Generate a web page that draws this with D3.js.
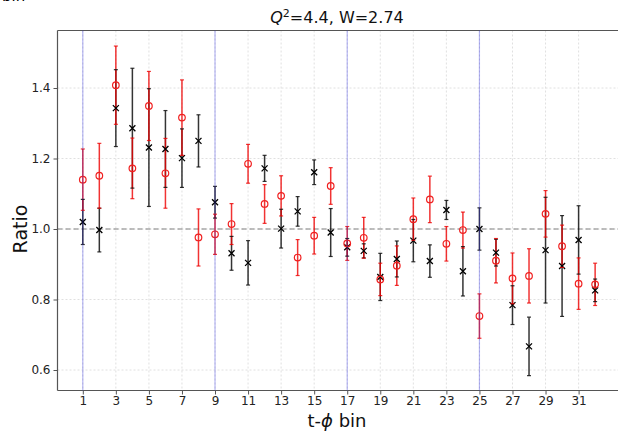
<!DOCTYPE html>
<html><head><meta charset="utf-8">
<script src="https://cdn.jsdelivr.net/npm/d3@7"></script>
<style>body{margin:0;background:#fff}svg{display:block}text{font-family:"DejaVu Sans",sans-serif}</style>
</head><body><svg id="c" width="618" height="431"></svg>
<script>
const bins = d3.range(1, 33);
const redVal = [1.140,1.151,1.408,1.172,1.349,1.158,1.316,0.976,0.985,1.014,1.185,1.071,1.094,0.919,0.981,1.122,0.959,0.975,0.857,0.896,1.028,1.084,0.958,0.997,0.753,0.910,0.860,0.867,1.043,0.951,0.845,0.843];
const redErr = [0.087,0.092,0.111,0.086,0.098,0.099,0.107,0.081,0.057,0.058,0.055,0.055,0.057,0.051,0.052,0.052,0.048,0.058,0.046,0.056,0.060,0.066,0.049,0.051,0.063,0.063,0.072,0.077,0.066,0.060,0.073,0.060];
const blackVal = [1.020,0.997,1.343,1.286,1.231,1.227,1.201,1.250,1.076,0.931,0.904,1.172,1.001,1.050,1.161,0.990,0.948,0.938,0.864,0.915,0.967,0.909,1.054,0.880,1.000,0.933,0.784,0.667,0.940,0.895,0.969,0.826];
const blackErr = [0.064,0.062,0.109,0.170,0.167,0.109,0.083,0.074,0.045,0.048,0.063,0.037,0.055,0.042,0.035,0.068,0.025,0.020,0.067,0.051,0.060,0.046,0.027,0.070,0.060,0.038,0.055,0.083,0.150,0.143,0.097,0.032];
const xTicks = d3.range(1, 32, 2);
const yTicks = [0.6, 0.8, 1.0, 1.2, 1.4];
const vLines = [1, 9, 17, 25];
const titleText = "=4.4, W=2.74";

const svg = d3.select("#c");
const L = 57.5, T = 30.5, B = 390.5, R = 640;
const x = d3.scaleLinear().domain([1, 31]).range([82.8, 578.6]);
const y = d3.scaleLinear().domain([0.6, 1.0]).range([370, 229]);

// clipped top-left label (remnant of another panel)
const tl = svg.append("text").attr("x", -24).attr("y", 1).attr("font-size", 15).attr("fill", "#000");
tl.append("tspan").text("t-");
tl.append("tspan").attr("font-style", "italic").text("ϕ");
tl.append("tspan").text(" bin");

// grid
const g = svg.append("g");
g.selectAll(".gx").data(xTicks).enter().append("line")
  .attr("x1", d => x(d)).attr("x2", d => x(d)).attr("y1", T).attr("y2", B)
  .attr("stroke", "#d8d8d8").attr("stroke-width", 0.8).attr("stroke-dasharray", "2,2");
g.selectAll(".gy").data(yTicks).enter().append("line")
  .attr("x1", L).attr("x2", R).attr("y1", d => y(d)).attr("y2", d => y(d))
  .attr("stroke", "#d8d8d8").attr("stroke-width", 0.8).attr("stroke-dasharray", "2,2");

// dashed line at 1
svg.append("line").attr("x1", L).attr("x2", R).attr("y1", y(1)).attr("y2", y(1))
  .attr("stroke", "#808080").attr("stroke-width", 1.2).attr("stroke-dasharray", "5,3");

// axes
const xAxis = d3.axisBottom(x).tickValues(xTicks).tickSize(4).tickPadding(2).tickFormat(d3.format("d"));
const yAxis = d3.axisLeft(y).tickValues(yTicks).tickSize(4).tickPadding(3).tickFormat(d3.format(".1f"));
const gx = svg.append("g").attr("transform", `translate(0,${B})`).call(xAxis);
const gy = svg.append("g").attr("transform", `translate(${L},0)`).call(yAxis);
[gx, gy].forEach(a => {
  a.select(".domain").remove();
  a.selectAll("text").attr("font-size", 12).attr("fill", "#222").attr("font-family", "DejaVu Sans");
  a.selectAll("line").attr("stroke", "#555");
});
// spines
svg.append("line").attr("x1", L).attr("x2", L).attr("y1", T).attr("y2", B).attr("stroke", "#555").attr("stroke-width", 1.2);
svg.append("line").attr("x1", L).attr("x2", R).attr("y1", B).attr("y2", B).attr("stroke", "#555").attr("stroke-width", 1.2);
svg.append("line").attr("x1", L).attr("x2", R).attr("y1", T).attr("y2", T).attr("stroke", "#555").attr("stroke-width", 1.2);

function bars(vals, errs, color, op) {
  const gg = svg.append("g").attr("stroke", color).attr("stroke-opacity", op).attr("stroke-width", 1.5);
  gg.selectAll("line").data(bins).enter().append("line")
    .attr("x1", d => x(d)).attr("x2", d => x(d))
    .attr("y1", (d, i) => y(vals[i] + errs[i])).attr("y2", (d, i) => y(vals[i] - errs[i]));
}
function caps(vals, errs, color, op) {
  const gg = svg.append("g").attr("stroke", color).attr("stroke-opacity", op).attr("stroke-width", 1.2);
  bins.forEach((d, i) => {
    [vals[i] + errs[i], vals[i] - errs[i]].forEach(v => {
      gg.append("line").attr("x1", x(d) - 2).attr("x2", x(d) + 2).attr("y1", y(v)).attr("y2", y(v));
    });
  });
}
bars(blackVal, blackErr, "#111", 0.85);
bars(redVal, redErr, "#e00", 0.8);
caps(blackVal, blackErr, "#111", 0.85);
// black x markers
const xm = svg.append("g").attr("stroke", "#000").attr("stroke-width", 1.3);
bins.forEach((d, i) => {
  const cx = x(d), cy = y(blackVal[i]), s = 3;
  xm.append("path").attr("d", `M${cx - s},${cy - s}L${cx + s},${cy + s}M${cx - s},${cy + s}L${cx + s},${cy - s}`);
});
caps(redVal, redErr, "#e00", 0.8);
svg.append("g").selectAll("circle").data(bins).enter().append("circle")
  .attr("cx", d => x(d)).attr("cy", (d, i) => y(redVal[i])).attr("r", 3.3)
  .attr("fill", "none").attr("stroke", "#f02020").attr("stroke-width", 1.2);

// purple vertical lines
svg.selectAll(".vl").data(vLines).enter().append("line")
  .attr("x1", d => x(d)).attr("x2", d => x(d)).attr("y1", T).attr("y2", B)
  .attr("stroke", "#3030e0").attr("stroke-opacity", 0.35).attr("stroke-width", 1.2);

// title
const t = svg.append("text").attr("x", 337).attr("y", 23).attr("text-anchor", "middle").attr("font-size", 16).attr("fill", "#111");
t.append("tspan").attr("font-style", "italic").text("Q");
t.append("tspan").attr("font-size", 11).attr("dy", -6).text("2");
t.append("tspan").attr("dy", 6).text(titleText);

// axis labels
const xl = svg.append("text").attr("x", 337).attr("y", 427).attr("text-anchor", "middle").attr("font-size", 18).attr("fill", "#111");
xl.append("tspan").text("t-");
xl.append("tspan").attr("font-style", "italic").text("ϕ");
xl.append("tspan").text(" bin");
svg.append("text").attr("transform", "translate(27,229) rotate(-90)").attr("text-anchor", "middle").attr("font-size", 19).attr("fill", "#111").text("Ratio");
</script></body></html>
